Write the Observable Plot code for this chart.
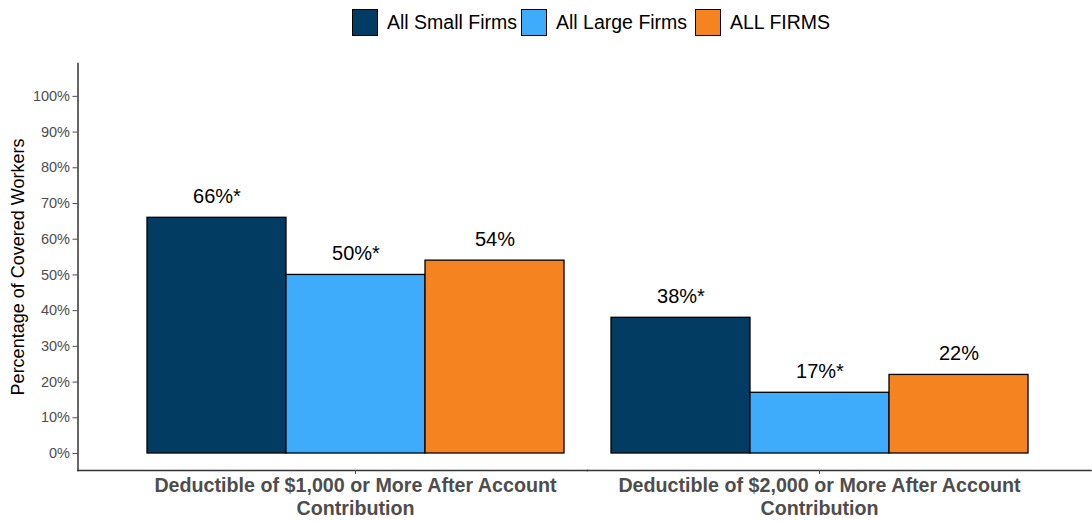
<!DOCTYPE html>
<html>
<head>
<meta charset="utf-8">
<script src="https://cdn.jsdelivr.net/npm/d3@7"></script>
<script src="https://cdn.jsdelivr.net/npm/@observablehq/plot@0.6"></script>
<style>
  html, body { margin: 0; padding: 0; background: #fff; }
  body { font-family: "Liberation Sans", Arial, sans-serif; width: 1092px; height: 521px; overflow: hidden; }
  #legend { position: relative; height: 45px; }
  .item { position: absolute; top: 9px; display: flex; align-items: center; height: 27px; }
  .sw { width: 24px; height: 25px; border: 1.3px solid #000; box-sizing: content-box; }
  .lab { font-size: 19.5px; color: #000; margin-left: 9px; white-space: nowrap; }
  #chart svg { display: block; }
  #chart [aria-label="fx-axis tick label"] { font-weight: bold; }
</style>
</head>
<body>
<div id="legend"></div>
<div id="chart"></div>
<script>
// ---- data ----
const groups = [
  "Deductible of $1,000 or More After Account Contribution",
  "Deductible of $2,000 or More After Account Contribution"
];
const groupTickLabels = [
  "Deductible of $1,000 or More After Account\nContribution",
  "Deductible of $2,000 or More After Account\nContribution"
];
const series = ["All Small Firms", "All Large Firms", "ALL FIRMS"];
const seriesColors = ["#023c62", "#3eabfb", "#f58420"];
const smallFirms = [0.66, 0.38];
const largeFirms = [0.50, 0.17];
const allFirms = [0.54, 0.22];
const smallSig = [true, true];
const largeSig = [true, true];
const allSig = [false, false];
const yTicks = [0, 0.1, 0.2, 0.3, 0.4, 0.5, 0.6, 0.7, 0.8, 0.9, 1.0];
const yTitle = "Percentage of Covered Workers";

// ---- table ----
const valuesBySeries = [smallFirms, largeFirms, allFirms];
const sigBySeries = [smallSig, largeSig, allSig];
const rows = groups.flatMap((g, gi) => series.map((s, si) => ({
  group: g,
  series: s,
  value: valuesBySeries[si][gi],
  label: Math.round(valuesBySeries[si][gi] * 100) + "%" + (sigBySeries[si][gi] ? "*" : "")
})));

// ---- legend ----
const legendLeft = [352, 521, 695];
const legend = document.getElementById("legend");
series.forEach((s, i) => {
  const it = document.createElement("div");
  it.className = "item";
  it.style.left = legendLeft[i] + "px";
  it.innerHTML = `<div class="sw" style="background:${seriesColors[i]}"></div><span class="lab">${s}</span>`;
  legend.appendChild(it);
});

// ---- chart ----
const chart = Plot.plot({
  width: 1092,
  height: 476,
  marginLeft: 83,
  marginRight: 0,
  marginTop: 18,
  marginBottom: 51,
  facet: {marginLeft: 0, marginRight: 0},
  style: {fontFamily: "'Liberation Sans', Arial, sans-serif", background: "#fff"},
  fx: {domain: groups, paddingInner: 0.0989, paddingOuter: 0.1344, label: null},
  x: {domain: series, padding: 0, axis: null},
  y: {domain: [-0.0476, 1.092], axis: null},
  color: {domain: series, range: seriesColors},
  marks: [
    Plot.barY(rows, {fx: "group", x: "series", y1: 0, y2: "value", fill: "series", stroke: "#000", strokeWidth: 1.3}),
    Plot.text(rows, {fx: "group", x: "series", y: "value", text: "label", dy: -21, fontSize: 20, fill: "#000"}),
    Plot.axisY({
      ticks: yTicks, tickFormat: d => Math.round(d * 100) + "%",
      facetAnchor: "left", dx: -68.5, tickSize: 5, tickPadding: 3,
      fontSize: 14.5, color: "#4d4d4d", label: null
    }),
    Plot.frame({anchor: "left", facetAnchor: "left", dx: -68.5, stroke: "#333", strokeWidth: 1.5}),
    Plot.frame({anchor: "bottom", facetAnchor: "left", insetLeft: -68.5, insetRight: -23, stroke: "#333", strokeWidth: 1.5}),
    Plot.frame({anchor: "bottom", facetAnchor: "right", insetLeft: -23, insetRight: -62.5, stroke: "#333", strokeWidth: 1.5}),
    Plot.text([yTitle], {frameAnchor: "left", facetAnchor: "left", textAnchor: "middle", rotate: -90, dx: -128.5, fontSize: 18, fill: "#000"}),
    Plot.axisFx({
      anchor: "bottom", label: null,
      tickFormat: g => groupTickLabels[groups.indexOf(g)],
      tickSize: 4, tickPadding: 1.5, fontSize: 19.7, fontWeight: "bold",
      lineHeight: 1.17, color: "#4d4d4d"
    })
  ]
});
document.getElementById("chart").appendChild(chart);
</script>
</body>
</html>
